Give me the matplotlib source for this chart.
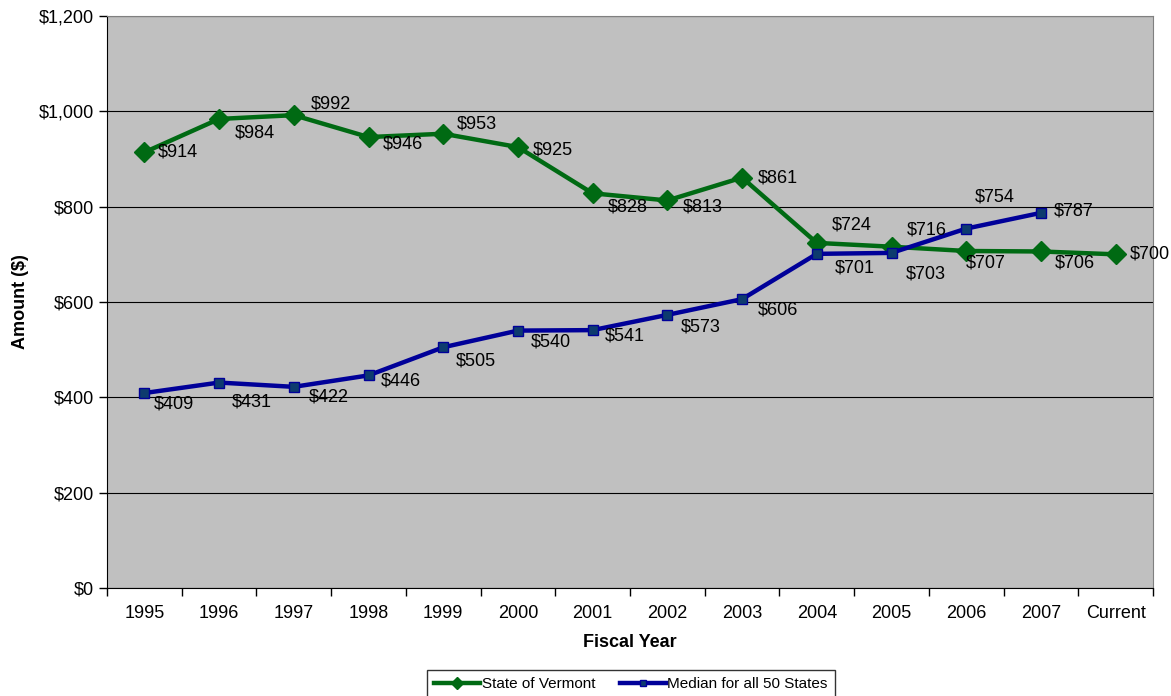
import numpy as np
import matplotlib.pyplot as plt

plt.rcParams['font.family'] = ['Liberation Sans', 'DejaVu Sans']

# data
years = ['1995', '1996', '1997', '1998', '1999', '2000', '2001', '2002',
         '2003', '2004', '2005', '2006', '2007', 'Current']
vermont = [914, 984, 992, 946, 953, 925, 828, 813, 861, 724, 716, 707, 706, 700]
median50 = [409, 431, 422, 446, 505, 540, 541, 573, 606, 701, 703, 754, 787]

# label offsets (points) so they sit like in the original
vt_off = [(10, 0), (11, -10), (12, 8), (10, -5), (10, 7), (11, -2), (11, -10), (11, -5),
          (11, 0), (11, 13), (11, 12), (0, -9), (10, -8), (10, 0)]
md_off = [(7, -8), (9, -14), (11, -7), (9, -4), (9, -10), (9, -8), (9, -4), (10, -9),
          (11, -8), (13, -10), (10, -15), (6, 23), (9, 1)]

green = '#006a13'
blue = '#000099'
fs = 13

fig = plt.figure(figsize=(11.71, 6.96), dpi=100)
ax = fig.add_axes([107/1171, 1 - 588/696, (1153-107)/1171, (588-16)/696])
ax.set_facecolor('#c0c0c0')

x = np.arange(len(years))
ax.plot(x, vermont, color=green, lw=3.2, marker='D', ms=10, mec=green, mfc=green,
        label='State of Vermont', zorder=3)
ax.plot(x[:len(median50)], median50, color=blue, lw=3.2, marker='s', ms=7,
        mec=blue, mfc='#0d3b6e', mew=1, label='Median for all 50 States', zorder=4)

for i, v in enumerate(vermont):
    ax.annotate(f'${v:,}', (x[i], v), xytext=vt_off[i], textcoords='offset points',
                ha='left', va='center', fontsize=fs, zorder=5)
for i, v in enumerate(median50):
    ax.annotate(f'${v:,}', (x[i], v), xytext=md_off[i], textcoords='offset points',
                ha='left', va='center', fontsize=fs, zorder=5)

ax.set_xlim(-0.5, len(years) - 0.5)
ax.set_ylim(0, 1200)
ax.set_yticks(np.arange(0, 1201, 200))
ax.set_yticklabels([f'${v:,}' for v in range(0, 1201, 200)], fontsize=fs)
ax.yaxis.grid(True, color='black', lw=0.8)
ax.set_axisbelow(True)

ax.set_xticks(x)
ax.set_xticklabels(years, fontsize=fs)
ax.tick_params(axis='x', length=0, pad=12)
ax.set_xticks(np.arange(-0.5, len(years)), minor=True)
ax.tick_params(axis='x', which='minor', length=6, direction='out', width=1)
ax.tick_params(axis='y', length=6, direction='out', width=1)

ax.set_xlabel('Fiscal Year', fontsize=fs, fontweight='bold', labelpad=9)
ax.set_ylabel('Amount ($)', fontsize=fs, fontweight='bold', labelpad=7)

for s in ['top', 'right']:
    ax.spines[s].set_color('#808080')
for s in ['left', 'bottom']:
    ax.spines[s].set_color('black')

leg = fig.legend(loc='upper center', bbox_to_anchor=(631/1171, 1 - 662/696), ncol=2,
                 fontsize=11, frameon=True, fancybox=False, edgecolor='black',
                 handlelength=3.0, handletextpad=0.1, columnspacing=1.6,
                 borderpad=0.5, markerscale=0.6)
leg.get_frame().set_linewidth(1)

fig.savefig('out.png', dpi=100)
